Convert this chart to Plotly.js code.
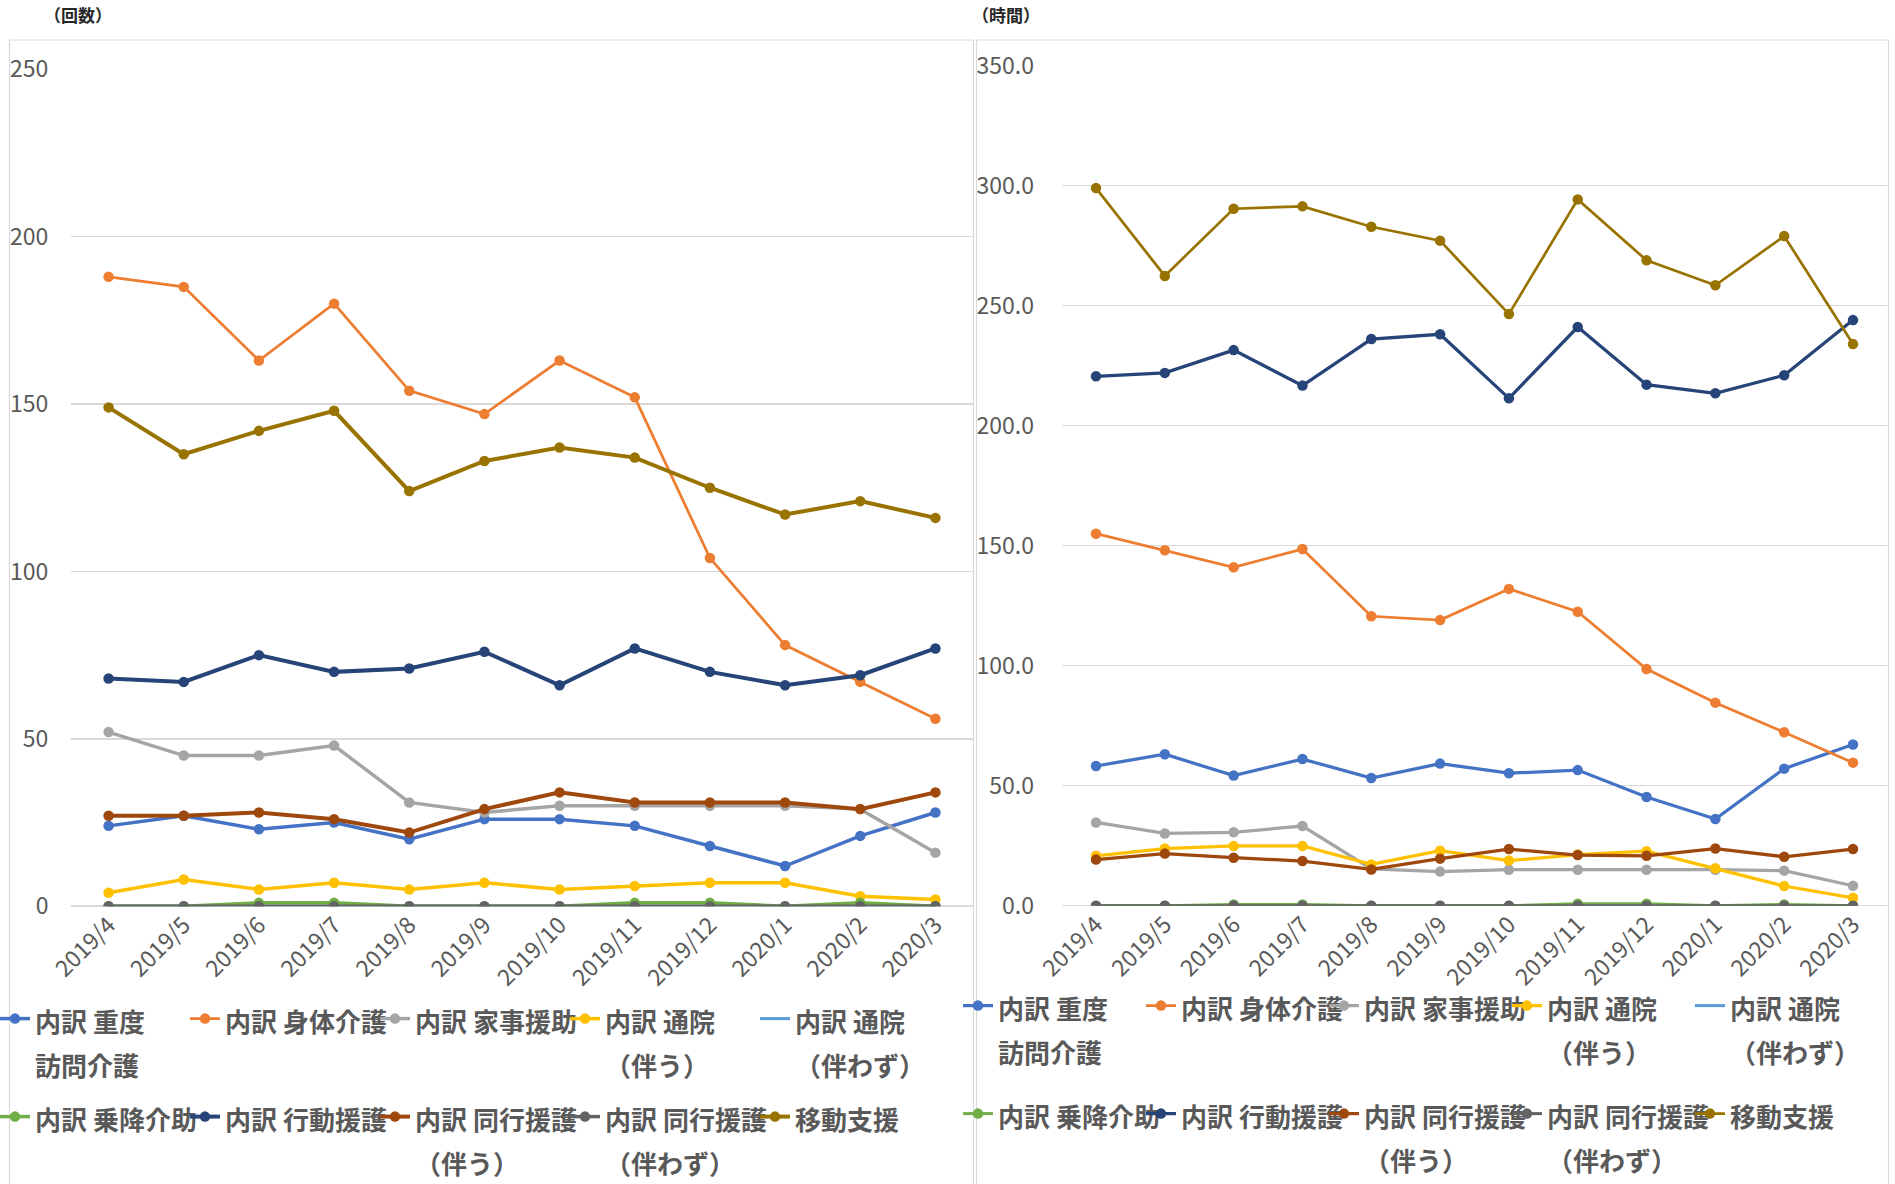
<!DOCTYPE html>
<html>
<head>
<meta charset="utf-8">
<script src="https://cdn.plot.ly/plotly-3.0.1.min.js"></script>
<style>
  html, body { margin: 0; padding: 0; background: #ffffff; }
  #chart { width: 1895px; height: 1184px; }
</style>
</head>
<body>
<div id="chart"></div>
<script>
// Months on the category axis
const months = ['2019/4', '2019/5', '2019/6', '2019/7', '2019/8', '2019/9',
                '2019/10', '2019/11', '2019/12', '2020/1', '2020/2', '2020/3'];

// Series labels (legend text, line-broken like the legend rows)
const seriesLabels = [
  ['内訳 重度', '訪問介護'],
  ['内訳 身体介護'],
  ['内訳 家事援助'],
  ['内訳 通院', '（伴う）'],
  ['内訳 通院', '（伴わず）'],
  ['内訳 乗降介助'],
  ['内訳 行動援護'],
  ['内訳 同行援護', '（伴う）'],
  ['内訳 同行援護', '（伴わず）'],
  ['移動支援']
];

// Left panel: number of uses (回数)
const judoCount            = [24, 27, 23, 25, 20, 26, 26, 24, 18, 12, 21, 28];
const shintaiCount         = [188, 185, 163, 180, 154, 147, 163, 152, 104, 78, 67, 56];
const kajiCount            = [52, 45, 45, 48, 31, 28, 30, 30, 30, 30, 29, 16];
const tsuinWithCount       = [4, 8, 5, 7, 5, 7, 5, 6, 7, 7, 3, 2];
const tsuinWithoutCount    = [0, 0, 0, 0, 0, 0, 0, 0, 0, 0, 0, 0];
const joukouCount          = [0, 0, 1, 1, 0, 0, 0, 1, 1, 0, 1, 0];
const koudouCount          = [68, 67, 75, 70, 71, 76, 66, 77, 70, 66, 69, 77];
const doukouWithCount      = [27, 27, 28, 26, 22, 29, 34, 31, 31, 31, 29, 34];
const doukouWithoutCount   = [0, 0, 0, 0, 0, 0, 0, 0, 0, 0, 0, 0];
const idouCount            = [149, 135, 142, 148, 124, 133, 137, 134, 125, 117, 121, 116];

// Right panel: service hours (時間)
const judoHours            = [58.2, 63.1, 54.2, 61.1, 53.2, 59.2, 55.2, 56.5, 45.3, 36.1, 57.1, 67.2];
const shintaiHours         = [155.0, 148.1, 141.0, 148.6, 120.6, 119.0, 132.0, 122.5, 98.6, 84.6, 72.3, 59.6];
const kajiHours            = [34.7, 30.1, 30.6, 33.2, 15.3, 14.2, 15.0, 15.0, 15.0, 15.0, 14.6, 8.3];
const tsuinWithHours       = [20.8, 23.8, 24.9, 24.9, 17.2, 22.9, 18.8, 21.3, 22.7, 15.6, 8.2, 3.3];
const tsuinWithoutHours    = [0, 0, 0, 0, 0, 0, 0, 0, 0, 0, 0, 0];
const joukouHours          = [0, 0, 0.5, 0.5, 0, 0, 0, 0.8, 0.8, 0, 0.5, 0];
const koudouHours          = [220.6, 222.0, 231.5, 216.7, 236.1, 238.1, 211.4, 241.1, 217.1, 213.5, 221.0, 244.0];
const doukouWithHours      = [19.2, 21.7, 20.0, 18.6, 15.1, 19.6, 23.6, 21.1, 20.8, 23.8, 20.4, 23.6];
const doukouWithoutHours   = [0, 0, 0, 0, 0, 0, 0, 0, 0, 0, 0, 0];
const idouHours            = [299.0, 262.4, 290.4, 291.4, 282.9, 277.1, 246.5, 294.3, 268.9, 258.5, 279.0, 234.0];

const countSeries = [judoCount, shintaiCount, kajiCount, tsuinWithCount, tsuinWithoutCount,
                     joukouCount, koudouCount, doukouWithCount, doukouWithoutCount, idouCount];
const hourSeries  = [judoHours, shintaiHours, kajiHours, tsuinWithHours, tsuinWithoutHours,
                     joukouHours, koudouHours, doukouWithHours, doukouWithoutHours, idouHours];

// Styling for each series
const seriesColors = ['#4472C4', '#ED7D31', '#A5A5A5', '#FFC000', '#5B9BD5',
                      '#70AD47', '#264478', '#9E480E', '#636363', '#997300'];
const leftWidths  = [3.5, 2.75, 3.5, 3.5, 3, 3.5, 4, 4, 3.5, 4];
const rightWidths = [3.25, 2.75, 3.25, 3.25, 3, 3, 3.25, 3.25, 3, 2.75];
const lineOnly    = [false, false, false, false, true, false, false, false, false, false];

const FONT = '"Noto Sans CJK JP", "Noto Sans", sans-serif';
const TEXT_GRAY = '#595959';
const GRID = '#d9d9d9';
const W = 1895, H = 1184;

function legendLabel(lines) {
  return lines.map(l => '<span style="font-size:26px">' + l + '</span>').join('<br>');
}

const traces = [];
function addPanel(seriesList, widths, xa, ya, legendRow1, legendRow2) {
  seriesList.forEach((vals, i) => {
    traces.push({
      type: 'scatter',
      x: months,
      y: vals,
      name: legendLabel(seriesLabels[i]),
      xaxis: xa,
      yaxis: ya,
      mode: lineOnly[i] ? 'lines' : 'lines+markers',
      line: { color: seriesColors[i], width: widths[i] },
      marker: { color: seriesColors[i], size: 10.5 },
      legend: i < 5 ? legendRow1 : legendRow2,
      hoverinfo: 'x+y'
    });
  });
}
addPanel(countSeries, leftWidths, 'x', 'y', 'legend', 'legend2');
addPanel(hourSeries, rightWidths, 'x2', 'y2', 'legend3', 'legend4');

const px = v => v / W;
const py = v => (H - v) / H;

function xAxis(x0, x1, anchor) {
  return {
    domain: [px(x0), px(x1)], anchor: anchor, type: 'category',
    range: [-0.5, 11.5], tickangle: -45, showgrid: false, zeroline: false,
    showline: false, ticks: '', fixedrange: true, automargin: false,
    tickfont: { family: FONT, size: 23, color: TEXT_GRAY }
  };
}
function yAxis(top, bottom, maxV, fmt, standoff, anchor) {
  return {
    domain: [py(bottom), py(top)], anchor: anchor, range: [0, maxV], dtick: 50,
    tickformat: fmt, showgrid: true, gridcolor: GRID, gridwidth: 1.5,
    zeroline: true, zerolinecolor: GRID, zerolinewidth: 1.5, showline: false,
    ticks: 'outside', ticklen: standoff, tickcolor: 'rgba(0,0,0,0)', fixedrange: true,
    automargin: false,
    tickfont: { family: FONT, size: 23, color: TEXT_GRAY }
  };
}

function legendBox(x, y, entry) {
  return {
    orientation: 'h', x: px(x), y: py(y), xanchor: 'left', yanchor: 'top',
    xref: 'paper', yref: 'paper',
    font: { family: FONT, size: 34, color: TEXT_GRAY, weight: 'bold' },
    bgcolor: 'rgba(0,0,0,0)', borderwidth: 0, valign: 'top',
    entrywidth: entry, entrywidthmode: 'pixels', itemwidth: 30,
    itemclick: false, itemdoubleclick: false
  };
}

const layout = {
  width: W, height: H,
  margin: { l: 0, r: 0, t: 0, b: 0, autoexpand: false },
  paper_bgcolor: '#ffffff', plot_bgcolor: 'rgba(0,0,0,0)',
  font: { family: FONT, color: TEXT_GRAY },
  showlegend: true,
  xaxis: xAxis(71, 973, 'y'),
  yaxis: yAxis(69.3, 906.2, 250, 'd', 17, 'x'),
  xaxis2: xAxis(1061.6, 1887.4, 'y2'),
  yaxis2: yAxis(65.7, 905.7, 350, '.1f', 22, 'x2'),
  legend:  legendBox(-5, 990, 145),
  legend2: legendBox(-5, 1088, 145),
  legend3: legendBox(958, 977, 138),
  legend4: legendBox(958, 1085, 138),
  shapes: [
    { type: 'rect', xref: 'paper', yref: 'paper', x0: px(9.5), x1: px(973.5), y0: py(1190), y1: py(40),
      line: { color: GRID, width: 1.2 }, fillcolor: 'rgba(0,0,0,0)', layer: 'below' },
    { type: 'rect', xref: 'paper', yref: 'paper', x0: px(976.5), x1: px(1888.5), y0: py(1190), y1: py(40),
      line: { color: GRID, width: 1.2 }, fillcolor: 'rgba(0,0,0,0)', layer: 'below' }
  ],
  annotations: [
    { text: '（回数）', xref: 'paper', yref: 'paper', x: px(42), y: py(14), xanchor: 'left', yanchor: 'middle',
      showarrow: false, font: { family: FONT, size: 17, color: '#262626', weight: 'bold' } },
    { text: '（時間）', xref: 'paper', yref: 'paper', x: px(970), y: py(14), xanchor: 'left', yanchor: 'middle',
      showarrow: false, font: { family: FONT, size: 17, color: '#262626', weight: 'bold' } }
  ]
};

Plotly.newPlot('chart', traces, layout, { displayModeBar: false, staticPlot: true });
</script>
</body>
</html>
